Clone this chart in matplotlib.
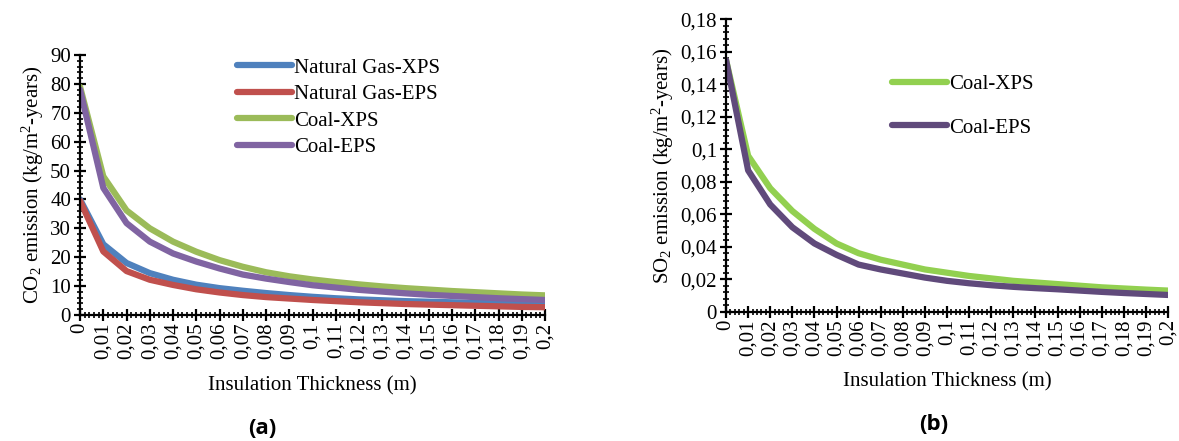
import matplotlib
matplotlib.use('Agg')
import matplotlib.pyplot as plt
from matplotlib.ticker import MultipleLocator, FuncFormatter
import numpy as np

plt.rcParams['font.family'] = ['Liberation Serif', 'DejaVu Serif']
plt.rcParams['mathtext.fontset'] = 'custom'
plt.rcParams['mathtext.rm'] = 'Liberation Serif'
plt.rcParams['mathtext.default'] = 'regular'

thickness = [0, 0.01, 0.02, 0.03, 0.04, 0.05, 0.06, 0.07, 0.08, 0.09, 0.1,
             0.11, 0.12, 0.13, 0.14, 0.15, 0.16, 0.17, 0.18, 0.19, 0.2]

# CO2 emission (kg/m2-years)
ng_xps = [40, 24.5, 18.0, 14.5, 12.2, 10.5, 9.3, 8.4, 7.6, 6.9, 6.3,
          5.8, 5.4, 5.1, 4.8, 4.6, 4.4, 4.2, 4.0, 3.8, 3.6]
ng_eps = [39.5, 22.0, 15.2, 12.2, 10.4, 8.9, 7.8, 6.9, 6.2, 5.7, 5.2,
          4.8, 4.4, 4.1, 3.8, 3.6, 3.4, 3.2, 3.0, 2.8, 2.7]
coal_xps = [79, 48, 36.2, 30.0, 25.4, 21.9, 19.0, 16.7, 14.8, 13.4, 12.3,
            11.4, 10.6, 9.9, 9.3, 8.8, 8.3, 7.9, 7.5, 7.1, 6.8]
coal_eps = [78, 44, 31.8, 25.4, 21.3, 18.5, 16.1, 14.0, 12.6, 11.4, 10.3,
            9.5, 8.7, 8.1, 7.5, 7.0, 6.6, 6.2, 5.8, 5.5, 5.2]

# SO2 emission (kg/m2-years)
so2_coal_xps = [0.155, 0.096, 0.076, 0.062, 0.051, 0.042, 0.036, 0.032, 0.029, 0.026, 0.024,
                0.022, 0.0205, 0.019, 0.018, 0.017, 0.016, 0.015, 0.0143, 0.0136, 0.013]
so2_coal_eps = [0.155, 0.087, 0.066, 0.052, 0.042, 0.035, 0.029, 0.026, 0.0235, 0.021, 0.019,
                0.0175, 0.0163, 0.0153, 0.0145, 0.0138, 0.013, 0.0122, 0.0115, 0.0109, 0.0103]

comma = FuncFormatter(lambda v, p: ('%g' % round(v, 4)).replace('.', ','))

fig = plt.figure(figsize=(11.79, 4.41), dpi=100)
ax1 = fig.add_axes([0.0679, 0.2857, 0.3944, 0.5896])
ax2 = fig.add_axes([0.6158, 0.2932, 0.3749, 0.6630])


def style_axis(ax, ymax, ymajor, yminor):
    ax.set_xlim(0, 0.2)
    ax.set_ylim(0, ymax)
    ax.xaxis.set_major_locator(MultipleLocator(0.01))
    ax.xaxis.set_minor_locator(MultipleLocator(0.002))
    ax.yaxis.set_major_locator(MultipleLocator(ymajor))
    ax.yaxis.set_minor_locator(MultipleLocator(yminor))
    ax.xaxis.set_major_formatter(comma)
    ax.yaxis.set_major_formatter(comma)
    for s in ['top', 'right']:
        ax.spines[s].set_visible(False)
    for s in ['left', 'bottom']:
        ax.spines[s].set_linewidth(1.6)
    ax.tick_params(axis='both', which='major', direction='inout', length=9, width=1.6,
                   labelsize=15)
    ax.tick_params(axis='both', which='minor', direction='inout', length=5, width=1.2)
    ax.tick_params(axis='x', which='major', labelrotation=90, pad=1)
    ax.tick_params(axis='y', which='major', pad=2)
    ax.set_xlabel('Insulation Thickness (m)', fontsize=15, labelpad=12)


ax1.plot(thickness, ng_xps, color='#4F81BD', lw=4.5, label='Natural Gas-XPS', solid_capstyle='round')
ax1.plot(thickness, ng_eps, color='#C0504D', lw=4.5, label='Natural Gas-EPS', solid_capstyle='round')
ax1.plot(thickness, coal_xps, color='#9BBB59', lw=4.5, label='Coal-XPS', solid_capstyle='round')
ax1.plot(thickness, coal_eps, color='#8064A2', lw=4.5, label='Coal-EPS', solid_capstyle='round')
style_axis(ax1, 90, 10, 2)
ax1.set_ylabel('CO$_2$ emission (kg/m$^2$-years)', fontsize=15, labelpad=3)
ax1.legend(loc='upper left', bbox_to_anchor=(0.32, 1.02), frameon=False, fontsize=15,
           handlelength=2.65, handletextpad=0.1, labelspacing=0.33, borderaxespad=0)

ax2.plot(thickness, so2_coal_xps, color='#92D050', lw=4.5, label='Coal-XPS', solid_capstyle='round')
ax2.plot(thickness, so2_coal_eps, color='#604A7B', lw=4.5, label='Coal-EPS', solid_capstyle='round')
style_axis(ax2, 0.18, 0.02, 0.004)
ax2.set_ylabel('SO$_2$ emission (kg/m$^2$-years)', fontsize=15, labelpad=3)
ax2.legend(loc='upper left', bbox_to_anchor=(0.356, 0.84), frameon=False, fontsize=15,
           handlelength=2.65, handletextpad=0.1, labelspacing=1.15, borderaxespad=0)

fig.text(262 / 1179, 1 - 429 / 441, '(a)', fontsize=16, fontweight='bold',
         family='Open Sans', ha='center', va='center')
fig.text(934 / 1179, 1 - 424 / 441, '(b)', fontsize=16, fontweight='bold',
         family='Open Sans', ha='center', va='center')

fig.savefig('out.png', dpi=100)
